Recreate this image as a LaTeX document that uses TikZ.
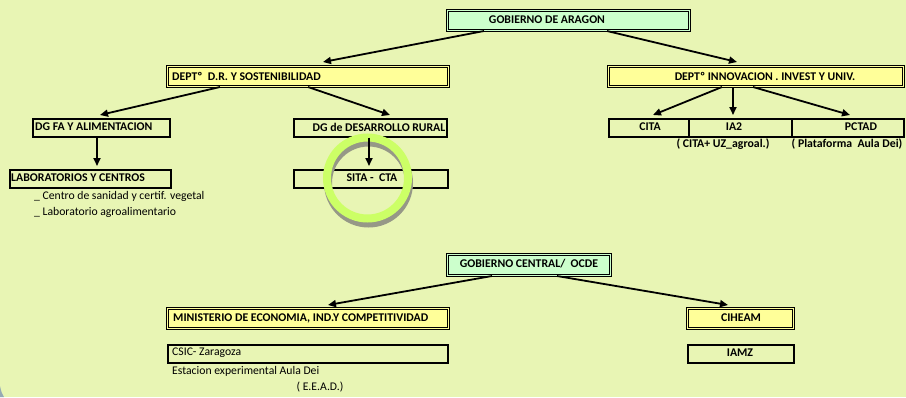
\documentclass[tikz,border=0pt]{standalone}
\usepackage{fontspec}
\setmainfont{Carlito}
\usetikzlibrary{arrows.meta,calc}
\definecolor{bg}{RGB}{232,245,180}
\definecolor{mint}{RGB}{204,255,204}
\definecolor{yel}{RGB}{255,255,153}
\definecolor{lime}{RGB}{204,255,102}
\definecolor{shadowgray}{RGB}{150,152,135}
\definecolor{cornergray}{RGB}{150,170,180}
\begin{document}
\begin{tikzpicture}[x=1pt,y=-1pt,
 boxd/.style={draw, line width=1.0pt, double distance=1.2pt, anchor=north west, inner sep=0pt},
 boxs/.style={draw, line width=1.7pt, anchor=north west, inner sep=0pt},
 lbl/.style={font=\bfseries\fontsize{11.8}{13}\selectfont, inner sep=0pt},
 txt/.style={font=\fontsize{11.7}{13}\selectfont, inner sep=0pt},
 arr/.style={line width=1.8pt, -{Triangle[length=8pt,width=7pt]}}]
\useasboundingbox (0,0) rectangle (906,397);
\fill[bg] (0,0) rectangle (906,397);
\fill[cornergray] (0,386) .. controls (1,391) and (2,394) .. (4,397) -- (0,397) -- cycle;
% boxes
\node[boxd, fill=mint, double=mint, minimum width=242pt, minimum height=20pt] (gob) at (447,10) {};
\node[boxd, fill=yel, double=yel, minimum width=281pt, minimum height=20pt] (dr) at (167,66) {};
\node[boxd, fill=yel, double=yel, minimum width=295pt, minimum height=20pt] (inn) at (608,66) {};
\node[boxs, minimum width=137pt, minimum height=18pt] (dgfa) at (32,118) {};
\node[boxs, minimum width=153pt, minimum height=18pt] (dgdr) at (293,118) {};
\node[boxs, minimum width=80pt, minimum height=18pt] (cita) at (608,118) {};
\node[boxs, minimum width=103pt, minimum height=18pt] (ia2) at (688,118) {};
\node[boxs, minimum width=112pt, minimum height=18pt] (pctad) at (791,118) {};
\node[boxs, minimum width=161pt, minimum height=18pt] (lab) at (9,169) {};
\node[boxs, minimum width=154pt, minimum height=18pt] (sita) at (293,169) {};
\node[boxd, fill=mint, double=mint, minimum width=163pt, minimum height=21pt] (gc) at (447,254) {};
\node[boxd, fill=yel, double=yel, minimum width=281pt, minimum height=20pt] (min) at (167,308) {};
\node[boxs, minimum width=280pt, minimum height=18pt] (csic) at (167,344) {};
\node[boxd, fill=yel, double=yel, minimum width=106pt, minimum height=20pt] (cih) at (687,308) {};
\node[boxs, minimum width=106pt, minimum height=18pt] (iamz) at (687,344) {};
% highlight circle with shadow
\draw[draw=shadowgray, line width=8pt] (368.5,183) circle[radius=40.5pt];
\draw[draw=lime, line width=8pt] (367.5,178) circle[radius=40.5pt];
% arrows
\draw[arr] ($(gob.south west)+(37,0)$) -- ($(dr.north west)+(156,-4)$);
\draw[arr] ($(gob.south west)+(160,0)$) -- ($(inn.north west)+(129,-4)$);
\draw[arr] ($(dr.south west)+(53,0)$) -- ($(dgfa.north west)+(68,-3)$);
\draw[arr] ($(dr.south west)+(141,0)$) -- ($(dgdr.north west)+(97,-3)$);
\draw[arr] ($(inn.south west)+(114,0)$) -- ($(cita.north west)+(45,-3)$);
\draw[arr] ($(inn.south west)+(125,0)$) -- ($(ia2.north west)+(45,-3)$);
\draw[arr] ($(inn.south west)+(145,0)$) -- ($(pctad.north west)+(59,-3)$);
\draw[arr] ($(dgfa.south west)+(65,0)$) -- ($(lab.north west)+(88,-3)$);
\draw[arr] ($(dgdr.south west)+(76,0)$) -- ($(sita.north west)+(76,-3)$);
\draw[arr] ($(gc.south west)+(45,0)$) -- ($(min.north west)+(161,-3)$);
\draw[arr] ($(gc.south west)+(110,0)$) -- ($(cih.north west)+(41,-3)$);
% texts
\node[lbl] (gobt) at (547,20) {GOBIERNO DE ARAGON};
\node[lbl, anchor=west] (drt) at (172,76) {DEPTº\ \ D.R. Y SOSTENIBILIDAD};
\node[lbl] (innt) at (765,76) {DEPTº INNOVACION . INVEST Y UNIV.};
\node[lbl, anchor=west] (dgfat) at (35,127) {DG FA Y ALIMENTACION};
\node[lbl] (dgdrt) at (379,127) {DG de DESARROLLO RURAL};
\node[lbl] (citat) at (650,127) {CITA};
\node[lbl] (ia2t) at (734,127) {IA2};
\node[lbl] (pctadt) at (861,127) {PCTAD};
\node[lbl] (sub1) at (723,144) {( CITA+ UZ\_agroal.)};
\node[lbl] (sub2) at (847,144) {( Plataforma\ \ Aula Dei)};
\node[lbl, anchor=west] (labt) at (11,178) {LABORATORIOS Y CENTROS};
\node[txt, anchor=west] (c1) at (34,196) {\_ Centro de sanidad y certif. vegetal};
\node[txt, anchor=west] (c2) at (34,212) {\_ Laboratorio agroalimentario};
\node[lbl] (sitat) at (372,178) {SITA -\ \ CTA};
\node[lbl] (gct) at (529,264) {GOBIERNO CENTRAL/\ \ OCDE};
\node[lbl, anchor=west] (mint) at (173,318) {MINISTERIO DE ECONOMIA, IND.Y COMPETITIVIDAD};
\node[txt, anchor=west] (csict) at (172,353) {CSIC- Zaragoza};
\node[txt, anchor=west] (est) at (172,371) {Estacion experimental Aula Dei};
\node[txt] (eead) at (320,387) {( E.E.A.D.)};
\node[lbl] (ciht) at (741,318) {CIHEAM};
\node[lbl] (iamzt) at (740,353) {IAMZ};
\end{tikzpicture}
\end{document}
